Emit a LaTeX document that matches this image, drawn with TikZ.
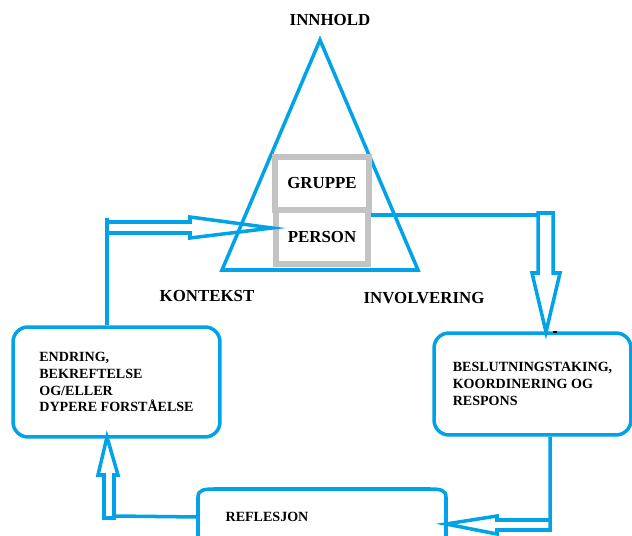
\documentclass[tikz,border=0pt]{standalone}
\usepackage{fontspec}
\setmainfont{Liberation Serif}
\usepackage{tikz}
\usetikzlibrary{calc}
\definecolor{paintblue}{HTML}{00A2E8}
\definecolor{paintgray}{HTML}{C3C3C3}
\tikzset{
  bigtxt/.style={font=\bfseries\fontsize{9.6}{11}\selectfont},
  smalltxt/.style={font=\bfseries\fontsize{8}{9.6}\selectfont, align=left},
  blueline/.style={draw=paintblue, line width=2pt},
  graybox/.style={draw=paintgray, line width=3.4pt, inner sep=0pt},
  roundbox/.style={blueline, rounded corners=0.3cm, smalltxt}
}
\begin{document}
\begin{tikzpicture}[x=0.02cm, y=-0.02cm]
\useasboundingbox (0,0) rectangle (632,536);
\clip (0,0) rectangle (632,536);

\draw[blueline] (320,40) -- (222,270) -- (418,270) -- cycle;
\node[bigtxt] (innhold) at (330,20) {INNHOLD};
\node[bigtxt] (kontekst) at (207,296) {KONTEKST};
\node[bigtxt] (involvering) at (424,298) {INVOLVERING};
\node[graybox, bigtxt, minimum width=1.88cm, minimum height=1.06cm] (gruppe) at (322,183.5) {GRUPPE};
\node[graybox, bigtxt, minimum width=1.84cm, minimum height=1.08cm] (person) at (322,237) {PERSON};

\node[roundbox, minimum width=4.14cm, minimum height=2.2cm] (endring) at (116.5,382)
  {ENDRING,\\BEKREFTELSE\\OG/ELLER\\DYPERE FORSTÅELSE};
\node[roundbox, minimum width=3.94cm, minimum height=2.04cm] (beslutning) at (532.5,384)
  {BESLUTNINGSTAKING,\\KOORDINERING OG\\RESPONS};

\draw[blueline] (198,545) -- (198,497) .. controls (198,490) and (204,489) .. (214,489)
  -- (430,489) .. controls (440,489) and (446,490) .. (446,497) -- (446,545);
\node[smalltxt] (reflesjon) at (267,517) {REFLESJON};

\coordinate (tipned) at (546,332);
\coordinate (tipinn) at (272,228);
\coordinate (tipref) at (446,524);
\coordinate (tipopp) at (107,437);

\draw[blueline] (person.east |- 0,215) -- (538,215);
\draw[blueline] (tipned) -- ++(14,-59) -- ++(-7,0) -- ++(0,-60) -- ++(-15,0) -- ++(0,60) -- ++(-6,0) -- cycle;
\fill (553,331.5) rectangle (557,333.5);

\draw[blueline] (beslutning.south -| 550,0) -- (550,530) -- (497,530) -- (497,534) -- (tipref)
  -- (497,516) -- (497,520) -- (550,520);

\draw[blueline] (114,516) -- (reflesjon.west -| 198,0);
\draw[blueline] (114,518) -- (114,475) -- (118,475) -- (tipopp) -- (98,475) -- (104,475) -- (104,518) -- cycle;

\draw[blueline] (endring.north -| 107,0) -- (107,218);
\draw[blueline] (107,222) -- (190,222) -- (190,217) -- (tipinn) -- (190,238) -- (190,233) -- (107,233);
\end{tikzpicture}
\end{document}
